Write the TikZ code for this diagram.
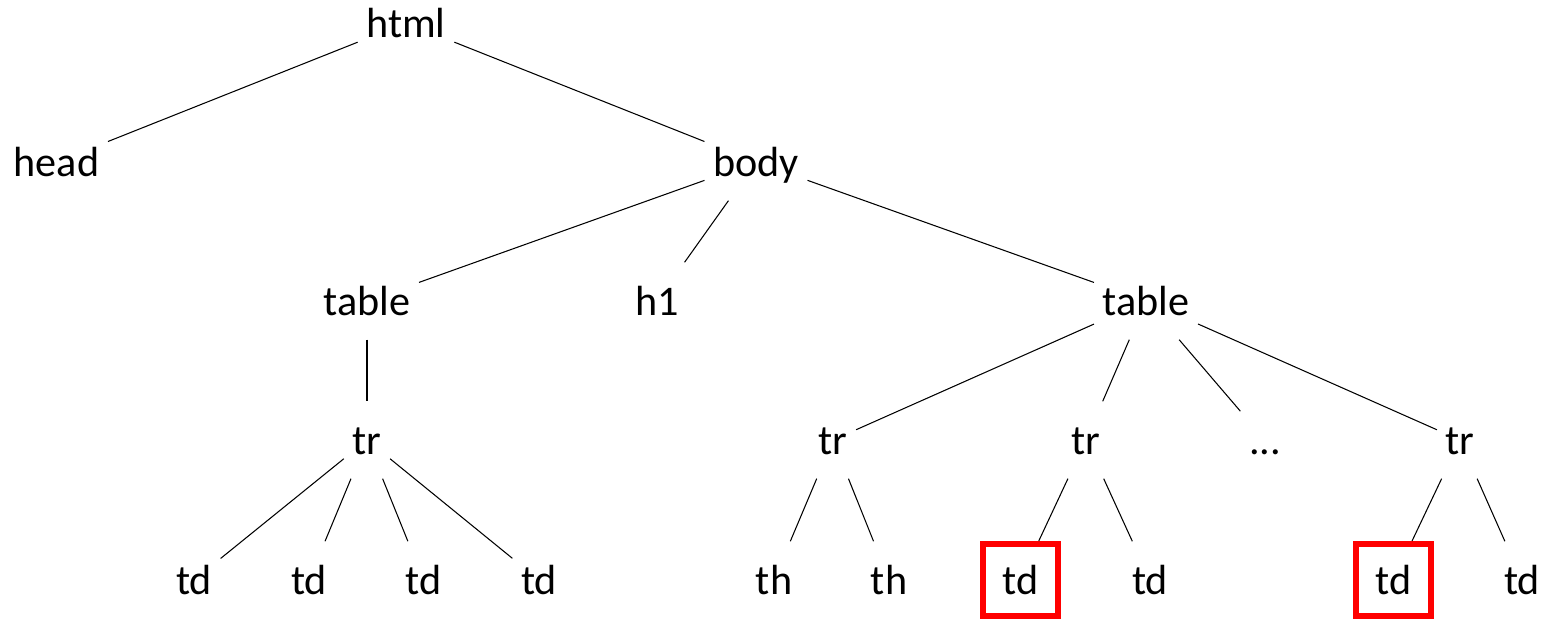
\documentclass[tikz,border=0pt]{standalone}
\usepackage{fontspec}
\setmainfont{Carlito}
\usepackage{tikz}
\usetikzlibrary{positioning}

\begin{document}
\begin{tikzpicture}[
    elem/.style={
        inner xsep=0.08cm,
        inner ysep=0pt,
        minimum height=0.76cm,
        text height=10pt,
        text depth=2pt,
        font=\fontsize{12}{14}\selectfont
    },
    hit/.style={
        elem,
        draw=red,
        line width=1.7pt,
        minimum width=0.75cm,
        minimum height=0.72cm
    },
    edge/.style={
        line width=0.3pt,
        color=black
    }
]
\useasboundingbox (0,0) rectangle (15.48,-6.22);

% Root and first level
\node[elem] (html) at (4.06, -0.23) {html};
\node[elem] (head) at (0.565, -1.62) {head};
\node[elem] (body) at (7.56, -1.62) {body};

% Inside body
\node[elem] (tab1) at (3.67, -3.01) {table};
\node[elem] (h1) at (6.57, -3.01) {h1};
\node[elem] (tab2) at (11.46, -3.01) {table};

% Rows
\node[elem] (tr1) at (3.67, -4.40) {tr};
\node[elem] (tr2) at (8.33, -4.40) {tr};
\node[elem] (tr3) at (10.86, -4.40) {tr};
\node[elem] (dots) at (12.65, -4.40) {...};
\node[elem] (tr4) at (14.60, -4.40) {tr};

% Cells
\node[elem] (td1) at (1.94, -5.80) {td};
\node[elem] (td2) at (3.09, -5.80) {td};
\node[elem] (td3) at (4.235, -5.80) {td};
\node[elem] (td4) at (5.39, -5.80) {td};
\node[elem] (th1) at (7.74, -5.80) {th};
\node[elem] (th2) at (8.89, -5.80) {th};
\node[hit] (td5) at (10.205, -5.80) {td};
\node[elem] (td6) at (11.50, -5.80) {td};
\node[hit] (td7) at (13.935, -5.80) {td};
\node[elem] (td8) at (15.22, -5.80) {td};

% Edges
\foreach \a/\b in {html/head, html/body,
    body/tab1, body/h1, body/tab2,
    tab1/tr1, tab2/tr2, tab2/tr3, tab2/dots, tab2/tr4,
    tr1/td1, tr1/td2, tr1/td3, tr1/td4,
    tr2/th1, tr2/th2, tr3/td5, tr3/td6, tr4/td7, tr4/td8} {
    \draw[edge] (\a) -- (\b);
}

\end{tikzpicture}
\end{document}
